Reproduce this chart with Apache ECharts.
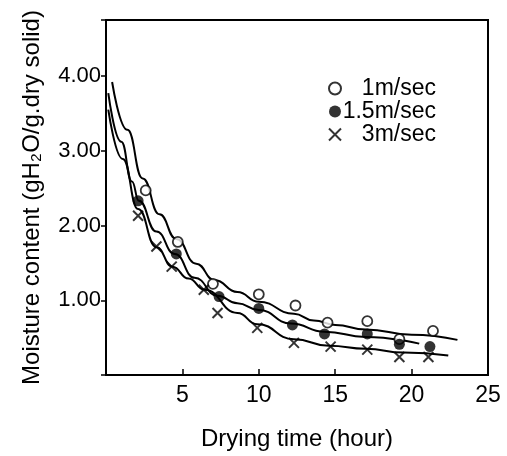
<!DOCTYPE html>
<html>
<head>
<meta charset="utf-8">
<script src="https://cdn.jsdelivr.net/npm/echarts@6/dist/echarts.min.js"></script>
<style>
html,body{margin:0;padding:0;background:#fff;}
#chart{width:507px;height:456px;}
</style>
</head>
<body>
<div id="chart"></div>
<script>
// Measured points (drying time in hours, moisture content g H2O / g dry solid)
const seriesNames = ['1m/sec', '1.5m/sec', '3m/sec'];
const timeOpen = [2.6, 4.7, 7.0, 10.0, 12.4, 14.5, 17.1, 19.2, 21.4];
const moistOpen = [2.47, 1.78, 1.22, 1.08, 0.93, 0.70, 0.72, 0.48, 0.59];
const timeFilled = [2.1, 4.6, 7.4, 10.0, 12.2, 14.3, 17.1, 19.2, 21.2];
const moistFilled = [2.33, 1.62, 1.05, 0.89, 0.67, 0.55, 0.55, 0.41, 0.38];
const timeCross = [2.1, 3.3, 4.3, 6.4, 7.3, 9.9, 12.3, 14.7, 17.1, 19.2, 21.1];
const moistCross = [2.13, 1.72, 1.45, 1.14, 0.83, 0.63, 0.43, 0.38, 0.34, 0.24, 0.24];

// Hand-drawn fitted curves
const fitT1 = [0.4, 1.4, 2.4, 3.5, 4.6, 5.9, 7.1, 8.6, 10.0, 12.3, 13.6, 15.0, 17.0, 20.0, 23.0];
const fitM1 = [3.92, 3.28, 2.63, 2.15, 1.82, 1.49, 1.27, 1.11, 0.98, 0.82, 0.73, 0.67, 0.61, 0.54, 0.47];
const fitT15 = [0.15, 1.0, 1.7, 2.15, 3.3, 4.5, 5.8, 7.3, 8.6, 10.0, 12.1, 14.3, 17.0, 20.5];
const fitM15 = [3.77, 3.12, 2.59, 2.33, 1.92, 1.62, 1.30, 1.06, 0.96, 0.87, 0.69, 0.58, 0.51, 0.42];
const fitT3 = [0.15, 1.1, 2.1, 3.3, 4.35, 5.4, 6.46, 8.6, 9.9, 12.3, 14.6, 17.0, 19.5, 22.4];
const fitM3 = [3.55, 2.89, 2.22, 1.71, 1.45, 1.29, 1.14, 0.83, 0.68, 0.48, 0.39, 0.35, 0.30, 0.26];

// Axis ticks
const xTicks = [5, 10, 15, 20, 25];
const yTicks = [1, 2, 3, 4];

const zip = (a, b) => a.map((v, i) => [v, b[i]]);
const FONT = 'Liberation Sans, Arial, sans-serif';

const chart = echarts.init(document.getElementById('chart'), null, {renderer: 'canvas'});
chart.setOption({
  backgroundColor: '#fff',
  animation: false,
  textStyle: {fontFamily: FONT, color: '#000'},
  grid: {left: 106, right: 19, top: 20, bottom: 77, show: true, borderColor: '#000', borderWidth: 2, backgroundColor: 'transparent'},
  legend: {
    data: seriesNames,
    orient: 'vertical',
    left: 323,
    top: 72,
    itemWidth: 12,
    itemHeight: 12,
    itemGap: 0,
    selectedMode: false,
    formatter: n => '{r|' + n + '}',
    textStyle: {
      color: '#000', fontFamily: FONT, fontSize: 23,
      rich: {r: {width: 90, align: 'right', fontSize: 23, fontFamily: FONT, color: '#000', lineHeight: 24}}
    }
  },
  xAxis: {
    type: 'value', min: 0, max: 25, interval: 5,
    name: 'Drying time (hour)', nameLocation: 'middle', nameGap: 52,
    nameTextStyle: {fontSize: 24, color: '#000', fontFamily: FONT},
    axisLine: {show: true, lineStyle: {color: '#000', width: 2}},
    axisTick: {show: true, inside: true, length: 6, lineStyle: {color: '#000', width: 1.5}},
    splitLine: {show: false},
    axisLabel: {
      fontSize: 23, color: '#000', margin: 9, fontFamily: FONT,
      formatter: v => xTicks.includes(v) ? String(v) : ''
    }
  },
  yAxis: {
    type: 'value', min: 0, max: 4.75, interval: 1,
    name: 'Moisture content (gH\u2082O/g.dry solid)', nameLocation: 'middle', nameGap: 62,
    nameTextStyle: {fontSize: 24, color: '#000', fontFamily: FONT},
    axisLine: {show: true, lineStyle: {color: '#000', width: 2}},
    axisTick: {show: true, inside: false, length: 5, lineStyle: {color: '#000', width: 1.5}},
    splitLine: {show: false},
    axisLabel: {
      fontSize: 22, color: '#000', margin: 5, fontFamily: FONT,
      formatter: v => yTicks.includes(v) ? v.toFixed(2) : ''
    }
  },
  series: [
    {name: 'fit 1m/sec', type: 'line', data: zip(fitT1, fitM1), showSymbol: false, smooth: true, smoothMonotone: 'x',
     lineStyle: {color: '#000', width: 2}, z: 2, silent: true},
    {name: 'fit 1.5m/sec', type: 'line', data: zip(fitT15, fitM15), showSymbol: false, smooth: true, smoothMonotone: 'x',
     lineStyle: {color: '#000', width: 2}, z: 2, silent: true},
    {name: 'fit 3m/sec', type: 'line', data: zip(fitT3, fitM3), showSymbol: false, smooth: true, smoothMonotone: 'x',
     lineStyle: {color: '#000', width: 2}, z: 2, silent: true},
    {name: seriesNames[0], type: 'scatter', data: zip(timeOpen, moistOpen), symbol: 'circle', symbolSize: 10,
     itemStyle: {color: '#fff', borderColor: '#000', borderWidth: 1.8}, z: 5},
    {name: seriesNames[1], type: 'scatter', data: zip(timeFilled, moistFilled), symbol: 'circle', symbolSize: 11,
     itemStyle: {color: '#000', borderColor: '#000', borderWidth: 0}, z: 5},
    {name: seriesNames[2], type: 'scatter', data: zip(timeCross, moistCross), symbol: 'path://M0,0L10,10M10,0L0,10', symbolSize: 10,
     itemStyle: {color: '#000', borderColor: '#000', borderWidth: 2}, z: 5}
  ]
});
</script>
</body>
</html>
